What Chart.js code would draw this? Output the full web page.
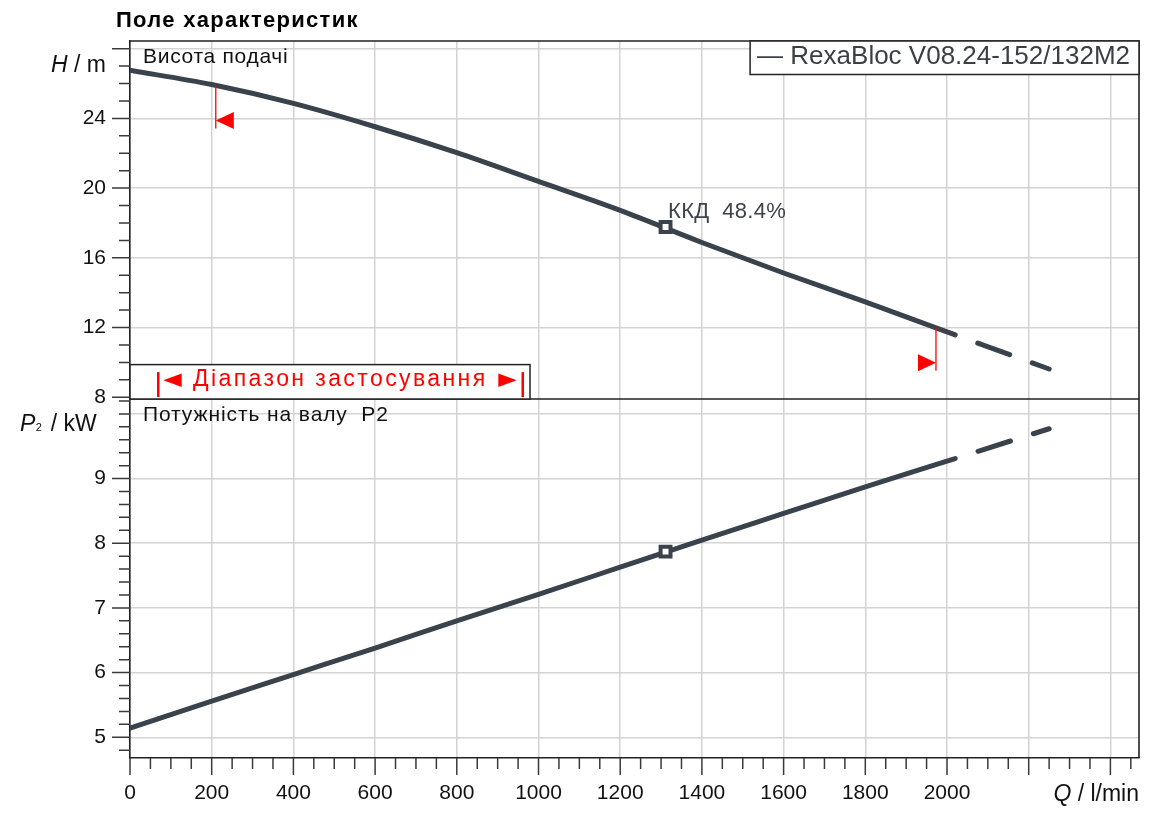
<!DOCTYPE html>
<html><head><meta charset="utf-8">
<script src="https://cdn.jsdelivr.net/npm/chart.js@4.4.1/dist/chart.umd.min.js"></script>
<style>html,body{margin:0;padding:0;background:#fff}#wrap{position:relative;width:1150px;height:815px}</style>
</head><body><div id="wrap"><canvas id="c"></canvas></div>
<script>
// ---- data ----
const flowQ  = [0, 200, 400, 600, 800, 1000, 1200, 1400, 1600, 1800, 2000, 2020, 2250];
const headH  = [26.76, 25.94, 24.86, 23.52, 22.03, 20.38, 18.72, 16.88, 15.13, 13.47, 11.75, 11.58, 9.62];
const powerP = [5.14, 5.56, 5.97, 6.38, 6.80, 7.21, 7.63, 8.05, 8.46, 8.87, 9.27, 9.31, 9.77];
const dashFromQ = 2020;
const bepQ = [1311];
const bepH = [17.77];
const bepP = [7.87];
const rangeQ = [210, 1973];
const xTickLabels = [0, 200, 400, 600, 800, 1000, 1200, 1400, 1600, 1800, 2000];
const hTickLabels = [8, 12, 16, 20, 24];
const pTickLabels = [5, 6, 7, 8, 9];
const seriesName = 'RexaBloc V08.24-152/132M2';
const titleText = 'Поле характеристик';
const headTitle = 'Висота подачі';
const powerTitle = 'Потужність на валу  P2';
const rangeText = 'Діапазон застосування';
const effText = 'ККД  48.4%';

const FONT = "'Liberation Sans', Arial, sans-serif";
const LINE = '#3a434c';
const GRID = '#d3d3d3';
Chart.defaults.font.family = FONT;
Chart.defaults.color = '#111';

function interp(xs, ys, v) {
  for (let i = 1; i < xs.length; i++) {
    if (v <= xs[i]) { const t = (v - xs[i-1]) / (xs[i] - xs[i-1]); return ys[i-1] + t * (ys[i] - ys[i-1]); }
  }
  return ys[ys.length - 1];
}
const isDash = c => c.p0.parsed.x >= dashFromQ - 1e-6;
const seg = {
  borderDash: c => isDash(c) ? [34, 24] : [],
  borderDashOffset: c => isDash(c) ? 34 : 0
};
const lineDs = (data, axis) => ({
  label: seriesName, data, yAxisID: axis, borderColor: LINE, borderWidth: 5,
  pointRadius: 0, cubicInterpolationMode: 'monotone', borderCapStyle: 'round',
  borderJoinStyle: 'round', fill: false, segment: seg, order: 2
});
const bepDs = (data, axis) => ({
  label: 'BEP', data, yAxisID: axis, showLine: false, pointStyle: 'rect',
  pointRadius: 7, pointBorderWidth: 4, pointBorderColor: LINE,
  pointBackgroundColor: '#fff', order: 0
});

function setFont(ctx, f, spacing) {
  ctx.font = f;
  if ('letterSpacing' in ctx) ctx.letterSpacing = (spacing || 0) + 'px';
}

const extras = {
  id: 'extras',
  afterDraw(chart) {
    const {ctx, chartArea: ca, scales: {x, yH, yP}} = chart;
    const sep = yH.bottom;
    ctx.save();
    // tick marks (major + minor)
    ctx.strokeStyle = '#3a3a3a'; ctx.lineWidth = 1.5;
    ctx.beginPath();
    for (let i = 0; i * 50 <= x.max; i++) {
      const q = i * 50, px = x.getPixelForValue(q), L = q % 200 === 0 ? 17 : 11;
      ctx.moveTo(px, ca.bottom); ctx.lineTo(px, ca.bottom + L);
    }
    for (let v = Math.ceil(yH.min); v <= yH.max; v++) {
      const py = yH.getPixelForValue(v), L = v % 4 === 0 ? 18 : 11;
      ctx.moveTo(ca.left - L, py); ctx.lineTo(ca.left, py);
    }
    for (let i = Math.ceil(yP.min * 5); i <= Math.floor(yP.max * 5); i++) {
      const v = i / 5, py = yP.getPixelForValue(v), L = (i % 5 === 0 && v < 10) ? 18 : 11;
      ctx.moveTo(ca.left - L, py); ctx.lineTo(ca.left, py);
    }
    ctx.stroke();
    // frame
    ctx.strokeStyle = '#222'; ctx.lineWidth = 1.6;
    ctx.beginPath();
    ctx.moveTo(ca.left, ca.top); ctx.lineTo(ca.right, ca.top); ctx.lineTo(ca.right, ca.bottom);
    ctx.moveTo(ca.left, sep); ctx.lineTo(ca.right, sep);
    ctx.stroke();

    // operating range markers
    ctx.strokeStyle = '#ff0000'; ctx.fillStyle = '#ff0000'; ctx.lineWidth = 1.3;
    rangeQ.forEach((q, k) => {
      const px = x.getPixelForValue(q), py0 = yH.getPixelForValue(interp(flowQ, headH, q));
      ctx.beginPath(); ctx.moveTo(px, py0); ctx.lineTo(px, py0 + 43); ctx.stroke();
      const cy = py0 + 35, dir = k === 0 ? 1 : -1;
      ctx.beginPath(); ctx.moveTo(px, cy); ctx.lineTo(px + dir * 18, cy - 8.5); ctx.lineTo(px + dir * 18, cy + 8.5); ctx.closePath(); ctx.fill();
    });

    // title
    ctx.fillStyle = '#000'; ctx.textAlign = 'left'; ctx.textBaseline = 'alphabetic';
    setFont(ctx, 'bold 22px ' + FONT, 1.3);
    ctx.fillText(titleText, 116, 26.5);

    // panel titles
    setFont(ctx, '21px ' + FONT, 0.7);
    ctx.fillStyle = '#111';
    ctx.fillText(headTitle, ca.left + 13, ca.top + 21.5);
    setFont(ctx, '21px ' + FONT, 0.9);
    ctx.fillText(powerTitle, ca.left + 13, sep + 21.5);

    // efficiency label
    const bx = x.getPixelForValue(bepQ[0]), by = yH.getPixelForValue(bepH[0]);
    setFont(ctx, '22px ' + FONT, 0.3);
    ctx.fillStyle = '#3c434b';
    ctx.fillText(effText, bx + 2.5, by - 8.5);

    // legend box
    setFont(ctx, '26px ' + FONT, 0);
    const legTxt = '— ' + seriesName;
    const lw = ctx.measureText(legTxt).width;
    const lx = ca.right - lw - 16, lt = ca.top, lh = 33.5;
    ctx.fillStyle = '#fff'; ctx.fillRect(lx, lt, ca.right - lx, lh);
    ctx.strokeStyle = '#222'; ctx.lineWidth = 1.5; ctx.strokeRect(lx, lt, ca.right - lx, lh);
    ctx.fillStyle = '#3a3f45'; ctx.fillText(legTxt, lx + 7, lt + 23);

    // application range box
    const rl = ca.left, rr = ca.left + 400, rt = sep - 34.4;
    ctx.fillStyle = '#fff'; ctx.fillRect(rl, rt, rr - rl, sep - rt);
    ctx.strokeStyle = '#222'; ctx.lineWidth = 1.5; ctx.strokeRect(rl, rt, rr - rl, sep - rt);
    ctx.fillStyle = '#ff0000'; ctx.fillRect(rl + 27, rt + 7.5, 2.5, 25);
    ctx.fillRect(rr - 8.5, rt + 7.5, 2.5, 25);
    const ty = rt + 15.7;
    ctx.beginPath(); ctx.moveTo(rl + 33.3, ty); ctx.lineTo(rl + 51.7, ty - 6.8); ctx.lineTo(rl + 51.7, ty + 6.8); ctx.closePath(); ctx.fill();
    ctx.beginPath(); ctx.moveTo(rr - 13.3, ty); ctx.lineTo(rr - 31.7, ty - 6.8); ctx.lineTo(rr - 31.7, ty + 6.8); ctx.closePath(); ctx.fill();
    setFont(ctx, '23px ' + FONT, 2.4);
    ctx.fillText(rangeText, rl + 63, rt + 21.5);

    // axis titles
    const AX = 23;
    setFont(ctx, AX + 'px ' + FONT, 0);
    ctx.fillStyle = '#111';
    // H / m
    const hRest = ' / m';
    const wRest = ctx.measureText(hRest).width;
    ctx.textAlign = 'right'; ctx.fillText(hRest, 106, ca.top + 31);
    setFont(ctx, 'italic ' + AX + 'px ' + FONT, 0);
    ctx.fillText('H', 106 - wRest, ca.top + 31);
    // P2 / kW
    ctx.textAlign = 'left';
    setFont(ctx, 'italic ' + AX + 'px ' + FONT, 0);
    ctx.fillText('P', 20, sep + 32);
    const wP = ctx.measureText('P').width;
    setFont(ctx, '11px ' + FONT, 0);
    ctx.fillText('2', 20 + wP + 0.5, sep + 32);
    setFont(ctx, AX + 'px ' + FONT, 0);
    ctx.fillText(' / kW', 20 + wP + 9, sep + 32);
    // Q / l/min
    const qRest = ' / l/min';
    const wQ = ctx.measureText(qRest).width;
    ctx.textAlign = 'right'; ctx.fillText(qRest, ca.right, ca.bottom + 43);
    setFont(ctx, 'italic ' + AX + 'px ' + FONT, 0);
    ctx.fillText('Q', ca.right - wQ, ca.bottom + 43);
    ctx.restore();
  }
};

const yCommon = (min, max, step, labels, weight, gridColor) => ({
  type: 'linear', position: 'left', stack: 'panels', stackWeight: weight, min, max,
  afterFit: s => { s.width = 110; },
  border: {display: true, color: '#222', width: 1.6},
  grid: {color: gridColor, lineWidth: 1.5, drawTicks: false},
  ticks: {stepSize: step, includeBounds: false, autoSkip: false, padding: 24,
    font: {size: 21}, color: '#111',
    callback: v => labels.includes(v) ? String(v) : ''}
});

new Chart(document.getElementById('c'), {
  type: 'line',
  data: {
    datasets: [
      lineDs(flowQ.map((q, i) => ({x: q, y: headH[i]})), 'yH'),
      lineDs(flowQ.map((q, i) => ({x: q, y: powerP[i]})), 'yP'),
      bepDs(bepQ.map((q, i) => ({x: q, y: bepH[i]})), 'yH'),
      bepDs(bepQ.map((q, i) => ({x: q, y: bepP[i]})), 'yP')
    ]
  },
  options: {
    responsive: true, maintainAspectRatio: false, animation: false, events: [],
    layout: {padding: {top: 41, left: 20, right: 11, bottom: 7}},
    plugins: {legend: {display: false}, tooltip: {enabled: false}, title: {display: false}},
    scales: {
      x: {
        type: 'linear', position: 'bottom', min: 0, max: 2470,
        afterFit: s => { s.height = 50; },
        border: {display: true, color: '#222', width: 1.6},
        grid: {color: GRID, lineWidth: 1.5, drawTicks: false},
        ticks: {stepSize: 200, autoSkip: false, maxRotation: 0, includeBounds: false, padding: 23,
          font: {size: 21}, color: '#111',
          callback: v => xTickLabels.includes(v) ? String(v) : ''}
      },
      yP: yCommon(4.68, 10.23, 1, pTickLabels, 359, GRID),
      yH: yCommon(7.9, 28.44, 4, hTickLabels, 358, c => (c.tick && c.tick.value === 8) ? 'rgba(0,0,0,0)' : GRID)
    }
  },
  plugins: [extras]
});
</script></body></html>
